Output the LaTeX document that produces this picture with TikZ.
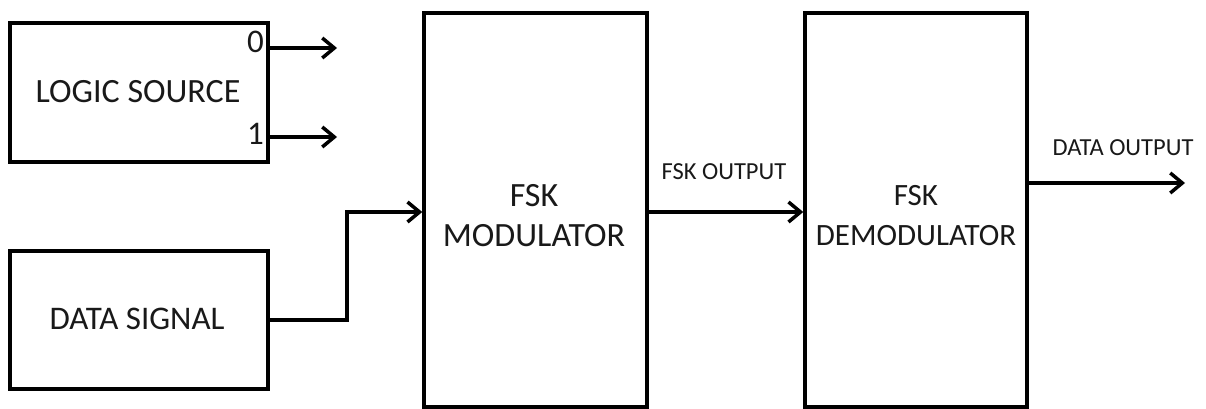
\documentclass[tikz,border=0pt]{standalone}
\usepackage{fontspec}
\setmainfont{Carlito}
\usetikzlibrary{arrows.meta}
\begin{document}
\begin{tikzpicture}[x=1pt,y=-1pt,
  box/.style={draw=black, line width=3.5pt, fill=white, inner sep=0pt},
  big/.style={font=\fontsize{33}{40}\selectfont, align=center, inner sep=0pt, text=black!90},
  small/.style={font=\fontsize{24.5}{28}\selectfont, inner sep=0pt, text=black!90},
  conn/.style={line width=3.5pt, -{Straight Barb[length=12pt,width=20pt,line width=3.5pt]}}]
\useasboundingbox (0,0) rectangle (1206,409);
% boxes
\node[box, minimum width=258pt, minimum height=139pt] (logic) at (139,92.5) {};
\node[box, minimum width=258pt, minimum height=138pt] (data) at (139,320) {};
\node[box, minimum width=223pt, minimum height=394pt] (mod) at (535.5,210) {};
\node[box, minimum width=222pt, minimum height=394pt] (demod) at (916,210) {};
% texts
\node[big, font=\fontsize{34}{40}\selectfont] (logict) at (138,92) {LOGIC SOURCE};
\node[big] (datat) at (137,319) {DATA SIGNAL};
\node[big, font=\fontsize{34}{40}\selectfont] (modt) at (534,216) {FSK\\MODULATOR};
\node[big, font=\fontsize{31}{40}\selectfont] (demodt) at (916,216) {FSK\\DEMODULATOR};
\node[big, anchor=east] (zero) at (264,42) {0};
\node[big, anchor=east] (one) at (264,134) {1};
\node[small] (fskout) at (724,172) {FSK OUTPUT};
\node[small] (dataout) at (1123,148) {DATA OUTPUT};
% connectors
\coordinate (o0) at (337,48);
\coordinate (o1) at (337,137);
\coordinate (dout) at (1185,183);
\draw[conn] (logic.east |- o0) -- (o0);
\draw[conn] (logic.east |- o1) -- (o1);
\draw[conn] (data.east |- 0,320) -- (347,320) -- (347,212) -- (mod.west |- 0,212);
\draw[conn] (mod.east |- 0,212) -- (demod.west |- 0,212);
\draw[conn] (demod.east |- dout) -- (dout);
\end{tikzpicture}
\end{document}
